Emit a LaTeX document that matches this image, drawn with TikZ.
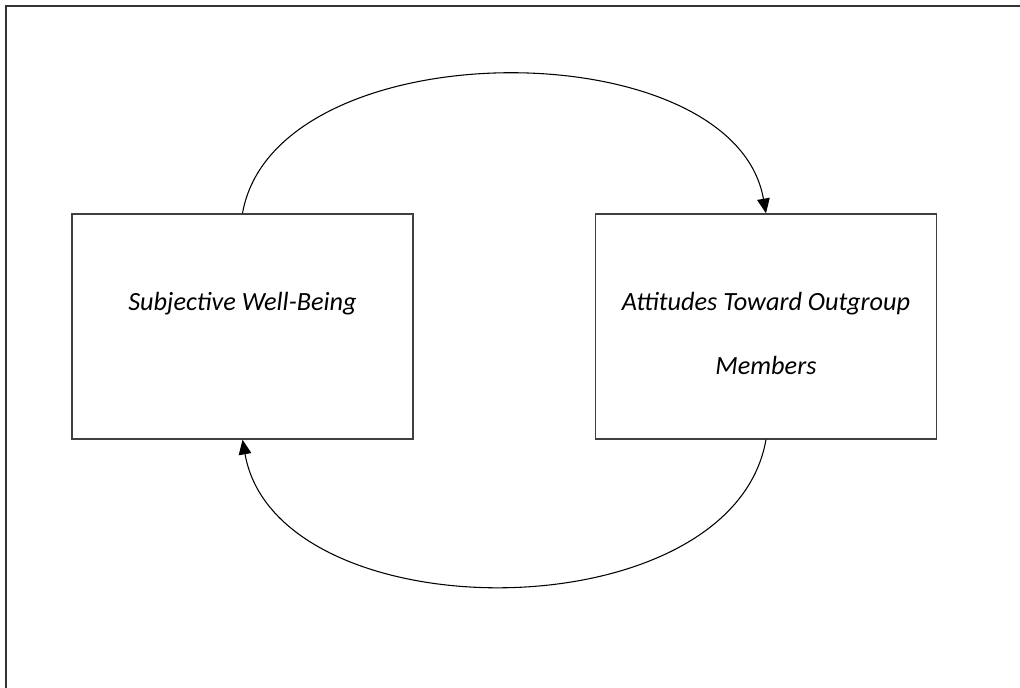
\documentclass[tikz,border=0pt]{standalone}
\usepackage{fontspec}
\setmainfont{Carlito}
\usepackage{xcolor}
\usepackage{tikz}
\usetikzlibrary{positioning,arrows.meta}

\begin{document}
\begin{tikzpicture}[x=0.75pt,y=-0.75pt,
 box/.style={draw=black!75, line width=1.1pt, inner sep=0pt, minimum width=255.75pt, text height=72pt, text depth=96.75pt, font=\fontsize{19.7pt}{48pt}\selectfont\itshape},
 link/.style={line width=0.8pt, -{Triangle[length=11pt,width=9.5pt]}}]
\useasboundingbox (0,0) rectangle (1020,688);
\draw[line width=1.5pt, black!80] (1020,6) -| (6,688);
\node[box] (sub) at (242.5,326.5) {Subjective Well-Being};
\node[box, right=135.75pt of sub] (att) {\parbox[t]{255.75pt}{\centering Attitudes Toward Outgroup\\Members}};
\draw[link] (sub.north) to[out=80,in=100,looseness=0.92] (att.north);
\draw[link] (att.south) to[out=-100,in=-80,looseness=0.97] (sub.south);
\end{tikzpicture}
\end{document}
